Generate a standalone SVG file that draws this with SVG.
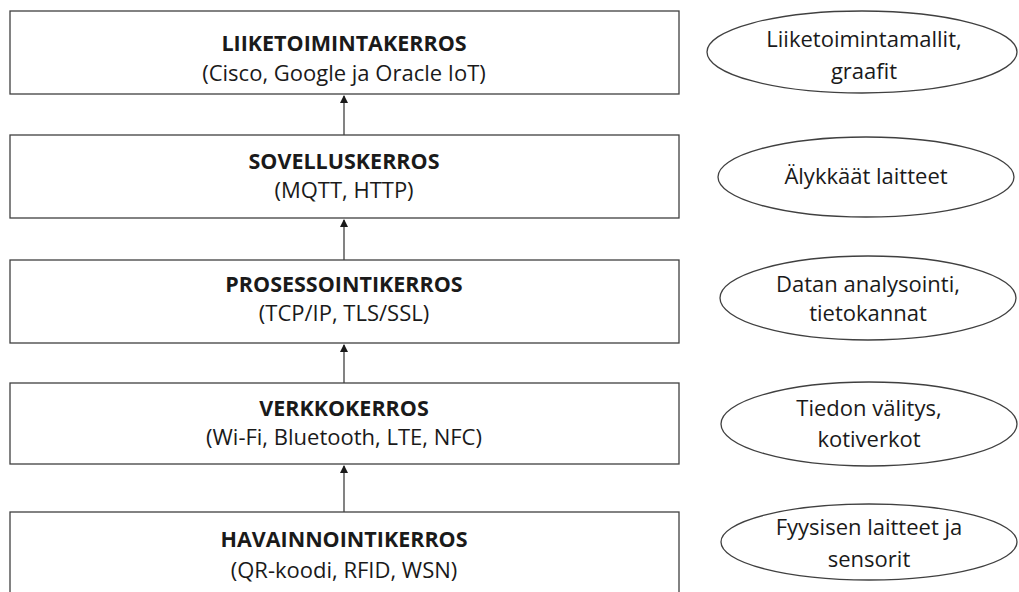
<svg xmlns="http://www.w3.org/2000/svg" width="1019" height="592" viewBox="0 0 1019 592">
<style>
.box{fill:#fff;stroke:#404040;stroke-width:1.3}
.ell{fill:#fff;stroke:#404040;stroke-width:1.3}
.t{font-family:"Open Sans","Liberation Sans",sans-serif;font-size:22px;fill:#1a1a1a;text-anchor:middle}
.b{font-weight:bold;font-size:21.5px}
.c{stroke:#404040;stroke-width:1.3;fill:none;marker-end:url(#ah)}
</style>
<defs>
<marker id="ah" markerWidth="8" markerHeight="10" refX="7" refY="4" orient="auto" markerUnits="userSpaceOnUse" viewBox="0 0 8 8">
<path d="M0,0 L8,4 L0,8 Z" fill="#1a1a1a"/>
</marker>
</defs>
<rect width="1019" height="592" fill="#fff"/>
<g id="connectors">
<line class="c" x1="344" y1="135" x2="344" y2="96"/>
<line class="c" x1="344" y1="260" x2="344" y2="220"/>
<line class="c" x1="344" y1="383" x2="344" y2="345"/>
<line class="c" x1="344" y1="512" x2="344" y2="466"/>
</g>
<g id="liiketoimintakerros">
<rect class="box" x="10" y="11" width="669" height="83"/>
<text class="t b" x="344" y="51">LIIKETOIMINTAKERROS</text>
<text class="t" x="344" y="81">(Cisco, Google ja Oracle IoT)</text>
</g>
<g id="sovelluskerros">
<rect class="box" x="10" y="135" width="669" height="83"/>
<text class="t b" x="344" y="169">SOVELLUSKERROS</text>
<text class="t" x="344" y="198">(MQTT, HTTP)</text>
</g>
<g id="prosessointikerros">
<rect class="box" x="10" y="260" width="669" height="83"/>
<text class="t b" x="344" y="292">PROSESSOINTIKERROS</text>
<text class="t" x="344" y="321">(TCP/IP, TLS/SSL)</text>
</g>
<g id="verkkokerros">
<rect class="box" x="10" y="383" width="669" height="81"/>
<text class="t b" x="344" y="416">VERKKOKERROS</text>
<text class="t" x="344" y="445">(Wi-Fi, Bluetooth, LTE, NFC)</text>
</g>
<g id="havainnointikerros">
<rect class="box" x="10" y="512" width="669" height="90"/>
<text class="t b" x="344" y="547">HAVAINNOINTIKERROS</text>
<text class="t" x="344" y="578">(QR-koodi, RFID, WSN)</text>
</g>
<g id="liiketoimintamallit">
<ellipse class="ell" cx="862" cy="52" rx="155" ry="41"/>
<text class="t" x="864" y="47">Liiketoimintamallit,</text>
<text class="t" x="864" y="79">graafit</text>
</g>
<g id="alykkaat">
<ellipse class="ell" cx="866" cy="177" rx="148" ry="40"/>
<text class="t" x="866" y="184">Älykkäät laitteet</text>
</g>
<g id="datan">
<ellipse class="ell" cx="868" cy="298" rx="148" ry="42"/>
<text class="t" x="868" y="292">Datan analysointi,</text>
<text class="t" x="868" y="321">tietokannat</text>
</g>
<g id="tiedon">
<ellipse class="ell" cx="869" cy="424" rx="148" ry="42"/>
<text class="t" x="869" y="416">Tiedon välitys,</text>
<text class="t" x="869" y="447">kotiverkot</text>
</g>
<g id="fyysisen">
<ellipse class="ell" cx="869" cy="542" rx="148" ry="38"/>
<text class="t" x="869" y="535">Fyysisen laitteet ja</text>
<text class="t" x="869" y="567">sensorit</text>
</g>
</svg>
